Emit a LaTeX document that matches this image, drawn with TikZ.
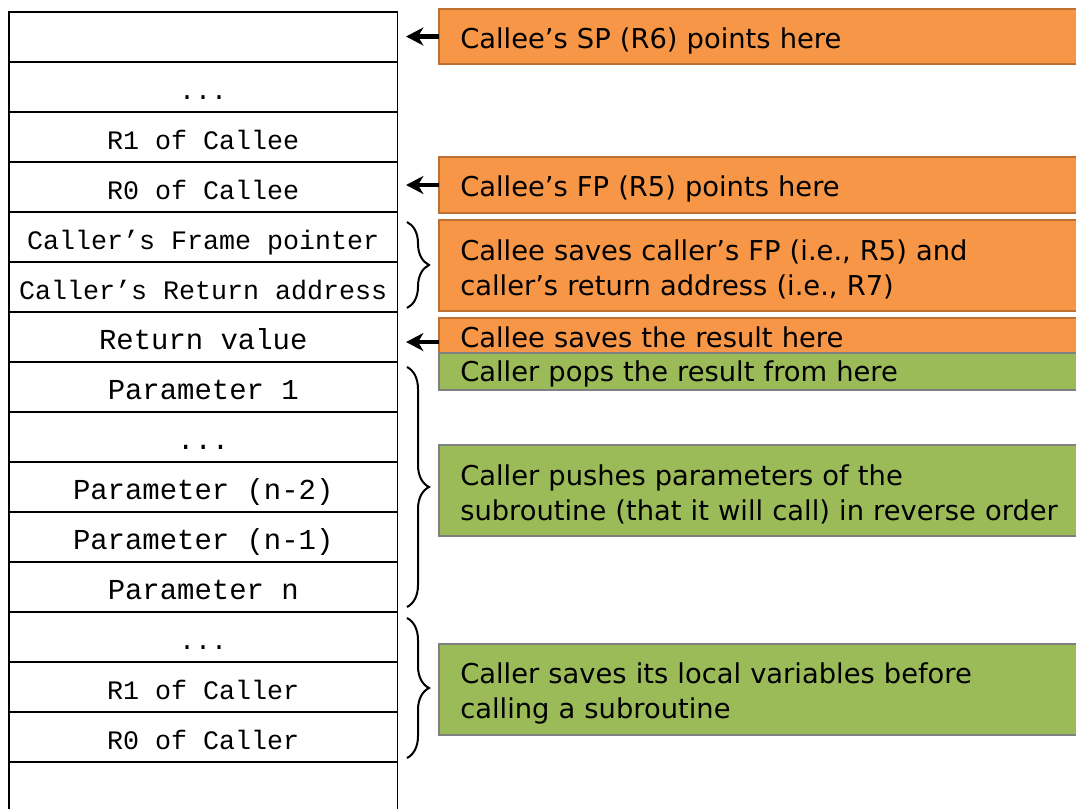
\documentclass[tikz,border=0pt]{standalone}
\usepackage{fontspec}
\setmainfont{DejaVu Sans}
\newfontfamily\stackfont{Liberation Mono}
\newfontfamily\descfont{DejaVu Sans}
\usetikzlibrary{arrows.meta,decorations.pathreplacing}
\definecolor{boxorange}{RGB}{247,150,70}
\definecolor{orangeedge}{RGB}{190,112,50}
\definecolor{boxgreen}{RGB}{155,187,89}
\definecolor{greenedge}{RGB}{128,128,128}
\begin{document}
\begin{tikzpicture}[x=0.75pt,y=-0.75pt,
 cell/.style={draw=black,line width=1.2pt,minimum width=291.4pt,minimum height=37.5pt,inner sep=0pt,outer sep=0pt,text height=19pt,text depth=0pt,font=\stackfont\fontsize{20pt}{24pt}\selectfont},
 bigcell/.style={cell,font=\stackfont\fontsize{21.7pt}{26pt}\selectfont},
 note/.style={anchor=north west,minimum width=495pt,inner sep=0pt,outer sep=0pt,line width=1.5pt},
 orangenote/.style={note,fill=boxorange,draw=orangeedge},
 greennote/.style={note,fill=boxgreen,draw=greenedge},
 notetext/.style={anchor=west,inner sep=0pt,text width=470pt,align=left,font=\descfont\fontsize{20.5pt}{26.25pt}\selectfont},
 pointer/.style={line width=3.2pt,-{Stealth[length=13pt,width=13.5pt,inset=4pt]},shorten >=6.4pt},
 stackbrace/.style={decorate,decoration={brace,amplitude=16.5pt},line width=1.5pt}]

\useasboundingbox (0,0) rectangle (1076,808);
\fill[white] (0,0) rectangle (1076,808);

% stack cells
\node[cell] (r0) at (203.25,37) {};
\node[cell] (r1) at (203.25,87) {...};
\node[cell] (r2) at (203.25,137) {R1 of Callee};
\node[cell] (r3) at (203.25,187) {R0 of Callee};
\node[cell] (r4) at (203.25,237) {Caller’s Frame pointer};
\node[cell] (r5) at (203.25,287) {Caller’s Return address};
\node[bigcell] (r6) at (203.25,337) {Return value};
\node[bigcell] (r7) at (203.25,387) {Parameter 1};
\node[bigcell] (r8) at (203.25,437) {...};
\node[bigcell] (r9) at (203.25,487) {Parameter (n-2)};
\node[bigcell] (r10) at (203.25,537) {Parameter (n-1)};
\node[bigcell] (r11) at (203.25,587) {Parameter n};
\node[cell] (r12) at (203.25,637) {...};
\node[cell] (r13) at (203.25,687) {R1 of Caller};
\node[cell] (r14) at (203.25,737) {R0 of Caller};
\node[cell] (r15) at (203.25,787) {};

% note boxes
\node[orangenote,minimum height=41.25pt] (b1) at (439,9) {};
\node[orangenote,minimum height=42pt] (b2) at (439,157) {};
\node[orangenote,minimum height=68.25pt] (b3) at (439,220) {};
\node[orangenote,minimum height=26.25pt] (b4) at (439,318) {};
\node[greennote,minimum height=27.75pt] (b5) at (439,353) {};
\node[greennote,minimum height=68.25pt] (b6) at (439,445) {};
\node[greennote,minimum height=68.25pt] (b7) at (439,644) {};

% note texts
\node[notetext] (t1) at ([xshift=15.75pt,yshift=-3pt]b1.west) {Callee’s SP (R6) points here};
\node[notetext] (t2) at ([xshift=15.75pt,yshift=-3pt]b2.west) {Callee’s FP (R5) points here};
\node[notetext] (t3) at ([xshift=15.75pt,yshift=-3pt]b3.west) {Callee saves caller’s FP (i.e., R5) and\\caller’s return address (i.e., R7)};
\node[notetext] (t4) at ([xshift=15.75pt,yshift=-1.5pt]b4.west) {Callee saves the result here};
\node[notetext] (t5) at ([xshift=15.75pt,yshift=-1.5pt]b5.west) {Caller pops the result from here};
\node[notetext] (t6) at ([xshift=15.75pt,yshift=-3pt]b6.west) {Caller pushes parameters of the\\subroutine (that it will call) in reverse order};
\node[notetext] (t7) at ([xshift=15.75pt,yshift=-3pt]b7.west) {Caller saves its local variables before\\calling a subroutine};

% pointers
\draw[pointer] (b1.west) -- (b1.west -| r0.east);
\draw[pointer] (b2.west) -- (b2.west -| r3.east);
\draw[pointer] ([yshift=-4.9pt]b4.west) -- ([yshift=-4.9pt]b4.west -| r6.east);

% braces
\draw[stackbrace] (407,222) -- (407,308);
\draw[stackbrace] (407,367) -- (407,607);
\draw[stackbrace] (407,618) -- (407,758);
\end{tikzpicture}
\end{document}
